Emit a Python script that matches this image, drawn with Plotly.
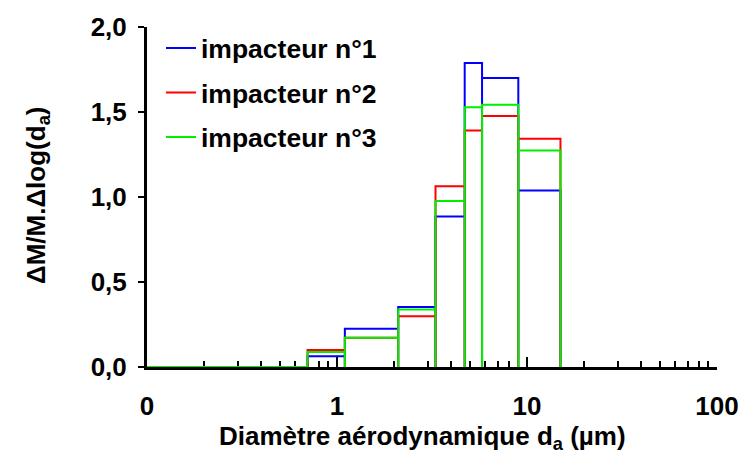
import numpy as np
import plotly.graph_objects as go

# Bin edges (aerodynamic diameter, µm)
edges = [0.1, 0.7, 1.1, 2.1, 3.3, 4.7, 5.8, 9.0, 15.0]
# Values per bin (ΔM/M.Δlog(da))
imp1 = [0.0, 0.063, 0.225, 0.353, 0.886, 1.788, 1.700, 1.038]
imp2 = [0.0, 0.100, 0.172, 0.298, 1.063, 1.391, 1.477, 1.343]
imp3 = [0.0, 0.088, 0.172, 0.338, 0.977, 1.528, 1.542, 1.273]

names = ["impacteur n°1", "impacteur n°2", "impacteur n°3"]
colors = ["#0000ff", "#ff0000", "#00ee00"]

xtick_vals = [0.1, 1, 10, 100]
xtick_text = ["0", "1", "10", "100"]
ytick_vals = [0, 0.5, 1.0, 1.5, 2.0]
ytick_text = ["0,0", "0,5", "1,0", "1,5", "2,0"]
minor_vals = [m * d for d in (0.1, 1, 10) for m in range(2, 10)]


def outline(edges, vals):
    xs, ys = [], []
    for i, v in enumerate(vals):
        l, r = edges[i], edges[i + 1]
        xs += [l, l, r, r]
        ys += [0, v, v, 0]
    return xs, ys


FONT = "Liberation Sans, Arial, sans-serif"
FS = 26
fig = go.Figure()
for i, (vals, name, col) in enumerate(zip([imp1, imp2, imp3], names, colors)):
    xs, ys = outline(edges, vals)
    fig.add_trace(go.Scatter(x=xs, y=ys, mode="lines", name=name,
                             legendgroup=str(i),
                             line=dict(color=col, width=2)))

fig.update_layout(
    width=753, height=467,
    margin=dict(l=147, r=36, t=17, b=100),
    paper_bgcolor="white", plot_bgcolor="white",
    font=dict(family=FONT, size=FS, color="black", weight="bold"),
    showlegend=True,
    legend=dict(x=(161 - 147) / 570, y=1.008, xanchor="left", yanchor="top",
                bgcolor="rgba(0,0,0,0)", tracegroupgap=7,
                font=dict(size=FS + 0.5, weight="bold")),
    xaxis=dict(type="log", range=[-1, 2], showgrid=False, zeroline=False,
               showline=True, linecolor="black", linewidth=3,
               tickmode="array", tickvals=xtick_vals, ticktext=xtick_text,
               ticks="inside", ticklen=10, tickwidth=2, tickcolor="black",
               ticklabelstandoff=14,
               minor=dict(tickmode="array", tickvals=minor_vals, ticks="inside",
                          ticklen=6, tickwidth=2, tickcolor="black"),
               layer="below traces",
               tickfont=dict(size=FS, weight="bold")),
    yaxis=dict(range=[0, 2], showgrid=False, zeroline=False,
               showline=True, linecolor="black", linewidth=3,
               tickmode="array", tickvals=ytick_vals, ticktext=ytick_text,
               ticks="outside", ticklen=6, tickwidth=1.5, tickcolor="black",
               ticklabelstandoff=6,
               layer="below traces",
               tickfont=dict(size=FS, weight="bold")),
)

fig.add_annotation(text="Diamètre aérodynamique d<sub>a</sub> (µm)",
                   xref="paper", yref="paper", x=(422 - 147) / 570, y=-(440 - 367) / 350,
                   xanchor="center", yanchor="middle", showarrow=False,
                   font=dict(size=FS, weight="bold"))
fig.add_annotation(text="ΔM/M.Δlog(d<sub>a</sub>)",
                   xref="paper", yref="paper", x=-(147 - 37) / 570, y=(367 - 191) / 350,
                   xanchor="center", yanchor="middle", showarrow=False, textangle=-90,
                   font=dict(size=FS, weight="bold"))

fig.write_html("out.html")
